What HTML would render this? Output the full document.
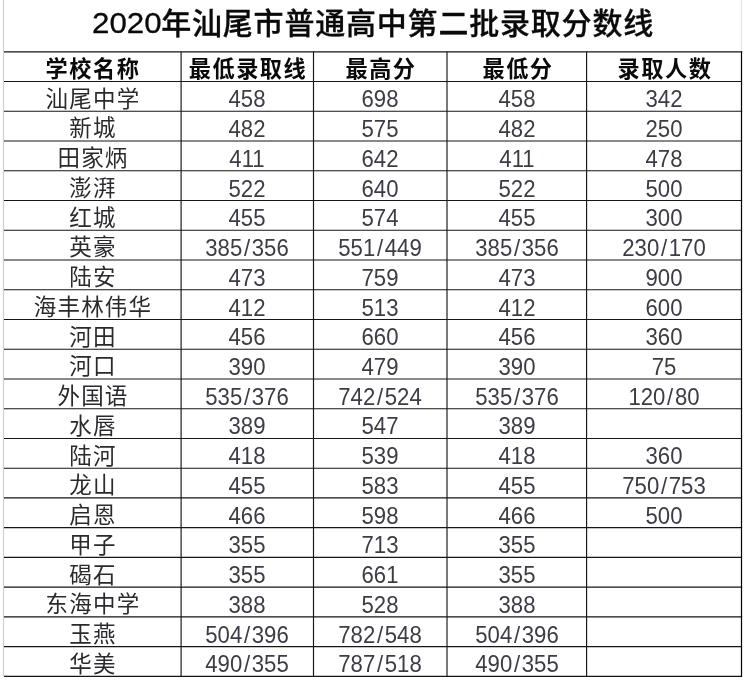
<!DOCTYPE html>
<html lang="zh-CN"><head><meta charset="utf-8"><title>2020年汕尾市普通高中第二批录取分数线</title>
<style>
html,body{margin:0;padding:0;background:#fff;}
#pg{position:relative;width:751px;height:681px;overflow:hidden;background:#fff;font-family:"Liberation Sans","Noto Sans CJK SC",sans-serif;}
#pg svg{position:absolute;left:0;top:0;}
.t{position:absolute;white-space:nowrap;text-align:center;line-height:1;transform:translate(-50%,-50%) rotate(0.02deg);}
.title{font-size:30px;font-weight:500;color:#0a0a0a;-webkit-text-stroke:0.3px #0a0a0a;letter-spacing:0.8px;}
.title b{font-weight:400;font-size:29.5px;letter-spacing:0;}
.h{font-size:22.2px;font-weight:700;color:#0a0a0a;letter-spacing:1.5px;}
.c{font-size:22.5px;font-weight:400;color:#2a2a2e;letter-spacing:1.2px;}
.n{font-size:23.2px;font-weight:400;color:#3c3c46;transform:translate(-50%,-50%) rotate(0.02deg) scaleX(0.955);}
.n i{font-style:normal;padding:0 1.8px;}
</style></head><body><div id="pg">
<svg width="751" height="681" viewBox="0 0 751 681"><line x1="3.5" y1="0" x2="3.5" y2="676.40" stroke="#cfcfcf" stroke-width="1.2"/><line x1="741.5" y1="0" x2="741.5" y2="51.80" stroke="#e2e2e2" stroke-width="1.2"/><line x1="4.0" y1="51.80" x2="742.1" y2="51.80" stroke="#151515" stroke-width="1.15"/><line x1="4.0" y1="81.54" x2="742.1" y2="81.54" stroke="#151515" stroke-width="1.15"/><line x1="4.0" y1="111.29" x2="742.1" y2="111.29" stroke="#151515" stroke-width="1.15"/><line x1="4.0" y1="141.03" x2="742.1" y2="141.03" stroke="#151515" stroke-width="1.15"/><line x1="4.0" y1="170.77" x2="742.1" y2="170.77" stroke="#151515" stroke-width="1.15"/><line x1="4.0" y1="200.51" x2="742.1" y2="200.51" stroke="#151515" stroke-width="1.15"/><line x1="4.0" y1="230.26" x2="742.1" y2="230.26" stroke="#151515" stroke-width="1.15"/><line x1="4.0" y1="260.00" x2="742.1" y2="260.00" stroke="#151515" stroke-width="1.15"/><line x1="4.0" y1="289.74" x2="742.1" y2="289.74" stroke="#151515" stroke-width="1.15"/><line x1="4.0" y1="319.49" x2="742.1" y2="319.49" stroke="#151515" stroke-width="1.15"/><line x1="4.0" y1="349.23" x2="742.1" y2="349.23" stroke="#151515" stroke-width="1.15"/><line x1="4.0" y1="378.97" x2="742.1" y2="378.97" stroke="#151515" stroke-width="1.15"/><line x1="4.0" y1="408.71" x2="742.1" y2="408.71" stroke="#151515" stroke-width="1.15"/><line x1="4.0" y1="438.46" x2="742.1" y2="438.46" stroke="#151515" stroke-width="1.15"/><line x1="4.0" y1="468.20" x2="742.1" y2="468.20" stroke="#151515" stroke-width="1.15"/><line x1="4.0" y1="497.94" x2="742.1" y2="497.94" stroke="#151515" stroke-width="1.15"/><line x1="4.0" y1="527.69" x2="742.1" y2="527.69" stroke="#151515" stroke-width="1.15"/><line x1="4.0" y1="557.43" x2="742.1" y2="557.43" stroke="#151515" stroke-width="1.15"/><line x1="4.0" y1="587.17" x2="742.1" y2="587.17" stroke="#151515" stroke-width="1.15"/><line x1="4.0" y1="616.91" x2="742.1" y2="616.91" stroke="#151515" stroke-width="1.15"/><line x1="4.0" y1="646.66" x2="742.1" y2="646.66" stroke="#151515" stroke-width="1.15"/><line x1="4.0" y1="676.40" x2="742.1" y2="676.40" stroke="#151515" stroke-width="1.15"/><line x1="181.1" y1="51.80" x2="181.1" y2="676.40" stroke="#151515" stroke-width="1.15"/><line x1="313.5" y1="51.80" x2="313.5" y2="676.40" stroke="#151515" stroke-width="1.15"/><line x1="447.0" y1="51.80" x2="447.0" y2="676.40" stroke="#151515" stroke-width="1.15"/><line x1="586.6" y1="51.80" x2="586.6" y2="676.40" stroke="#151515" stroke-width="1.15"/><line x1="741.5" y1="51.15" x2="741.5" y2="677.05" stroke="#000" stroke-width="1.2"/></svg>
<div class="title" style="position:absolute;left:0;top:0;width:751px;height:50px;line-height:1;white-space:nowrap"><b style="position:absolute;left:91.7px;top:8.3px;transform-origin:0 50%;transform:scaleX(1.06);-webkit-text-stroke:0.3px #0a0a0a">2020</b><span style="position:absolute;left:161.2px;top:8.6px;transform-origin:0 50%;transform:scale(1.0,1.0)">年汕尾市普通高中第二批录取分数线</span></div>
<div class="t h" style="left:93.05px;top:69.97px">学校名称</div>
<div class="t h" style="left:248.05px;top:69.97px">最低录取线</div>
<div class="t h" style="left:381.00px;top:69.97px">最高分</div>
<div class="t h" style="left:517.55px;top:69.97px">最低分</div>
<div class="t h" style="left:664.80px;top:69.97px">录取人数</div>
<div class="t c" style="left:92.90px;top:99.61px">汕尾中学</div>
<div class="t n" style="left:247.30px;top:100.31px">458</div>
<div class="t n" style="left:380.25px;top:100.31px">698</div>
<div class="t n" style="left:516.80px;top:100.31px">458</div>
<div class="t n" style="left:664.05px;top:100.31px">342</div>
<div class="t c" style="left:92.90px;top:129.36px">新城</div>
<div class="t n" style="left:247.30px;top:130.06px">482</div>
<div class="t n" style="left:380.25px;top:130.06px">575</div>
<div class="t n" style="left:516.80px;top:130.06px">482</div>
<div class="t n" style="left:664.05px;top:130.06px">250</div>
<div class="t c" style="left:92.90px;top:159.10px">田家炳</div>
<div class="t n" style="left:247.30px;top:159.80px">411</div>
<div class="t n" style="left:380.25px;top:159.80px">642</div>
<div class="t n" style="left:516.80px;top:159.80px">411</div>
<div class="t n" style="left:664.05px;top:159.80px">478</div>
<div class="t c" style="left:92.90px;top:188.84px">澎湃</div>
<div class="t n" style="left:247.30px;top:189.54px">522</div>
<div class="t n" style="left:380.25px;top:189.54px">640</div>
<div class="t n" style="left:516.80px;top:189.54px">522</div>
<div class="t n" style="left:664.05px;top:189.54px">500</div>
<div class="t c" style="left:92.90px;top:218.59px">红城</div>
<div class="t n" style="left:247.30px;top:219.29px">455</div>
<div class="t n" style="left:380.25px;top:219.29px">574</div>
<div class="t n" style="left:516.80px;top:219.29px">455</div>
<div class="t n" style="left:664.05px;top:219.29px">300</div>
<div class="t c" style="left:92.90px;top:248.33px">英豪</div>
<div class="t n" style="left:247.30px;top:249.03px">385<i>/</i>356</div>
<div class="t n" style="left:380.25px;top:249.03px">551<i>/</i>449</div>
<div class="t n" style="left:516.80px;top:249.03px">385<i>/</i>356</div>
<div class="t n" style="left:664.05px;top:249.03px">230<i>/</i>170</div>
<div class="t c" style="left:92.90px;top:278.07px">陆安</div>
<div class="t n" style="left:247.30px;top:278.77px">473</div>
<div class="t n" style="left:380.25px;top:278.77px">759</div>
<div class="t n" style="left:516.80px;top:278.77px">473</div>
<div class="t n" style="left:664.05px;top:278.77px">900</div>
<div class="t c" style="left:92.90px;top:307.81px">海丰林伟华</div>
<div class="t n" style="left:247.30px;top:308.51px">412</div>
<div class="t n" style="left:380.25px;top:308.51px">513</div>
<div class="t n" style="left:516.80px;top:308.51px">412</div>
<div class="t n" style="left:664.05px;top:308.51px">600</div>
<div class="t c" style="left:92.90px;top:337.56px">河田</div>
<div class="t n" style="left:247.30px;top:338.26px">456</div>
<div class="t n" style="left:380.25px;top:338.26px">660</div>
<div class="t n" style="left:516.80px;top:338.26px">456</div>
<div class="t n" style="left:664.05px;top:338.26px">360</div>
<div class="t c" style="left:92.90px;top:367.30px">河口</div>
<div class="t n" style="left:247.30px;top:368.00px">390</div>
<div class="t n" style="left:380.25px;top:368.00px">479</div>
<div class="t n" style="left:516.80px;top:368.00px">390</div>
<div class="t n" style="left:664.05px;top:368.00px">75</div>
<div class="t c" style="left:92.90px;top:397.04px">外国语</div>
<div class="t n" style="left:247.30px;top:397.74px">535<i>/</i>376</div>
<div class="t n" style="left:380.25px;top:397.74px">742<i>/</i>524</div>
<div class="t n" style="left:516.80px;top:397.74px">535<i>/</i>376</div>
<div class="t n" style="left:664.05px;top:397.74px">120<i>/</i>80</div>
<div class="t c" style="left:92.90px;top:426.79px">水唇</div>
<div class="t n" style="left:247.30px;top:427.49px">389</div>
<div class="t n" style="left:380.25px;top:427.49px">547</div>
<div class="t n" style="left:516.80px;top:427.49px">389</div>
<div class="t c" style="left:92.90px;top:456.53px">陆河</div>
<div class="t n" style="left:247.30px;top:457.23px">418</div>
<div class="t n" style="left:380.25px;top:457.23px">539</div>
<div class="t n" style="left:516.80px;top:457.23px">418</div>
<div class="t n" style="left:664.05px;top:457.23px">360</div>
<div class="t c" style="left:92.90px;top:486.27px">龙山</div>
<div class="t n" style="left:247.30px;top:486.97px">455</div>
<div class="t n" style="left:380.25px;top:486.97px">583</div>
<div class="t n" style="left:516.80px;top:486.97px">455</div>
<div class="t n" style="left:664.05px;top:486.97px">750<i>/</i>753</div>
<div class="t c" style="left:92.90px;top:516.01px">启恩</div>
<div class="t n" style="left:247.30px;top:516.71px">466</div>
<div class="t n" style="left:380.25px;top:516.71px">598</div>
<div class="t n" style="left:516.80px;top:516.71px">466</div>
<div class="t n" style="left:664.05px;top:516.71px">500</div>
<div class="t c" style="left:92.90px;top:545.76px">甲子</div>
<div class="t n" style="left:247.30px;top:546.46px">355</div>
<div class="t n" style="left:380.25px;top:546.46px">713</div>
<div class="t n" style="left:516.80px;top:546.46px">355</div>
<div class="t c" style="left:92.90px;top:575.50px">碣石</div>
<div class="t n" style="left:247.30px;top:576.20px">355</div>
<div class="t n" style="left:380.25px;top:576.20px">661</div>
<div class="t n" style="left:516.80px;top:576.20px">355</div>
<div class="t c" style="left:92.90px;top:605.24px">东海中学</div>
<div class="t n" style="left:247.30px;top:605.94px">388</div>
<div class="t n" style="left:380.25px;top:605.94px">528</div>
<div class="t n" style="left:516.80px;top:605.94px">388</div>
<div class="t c" style="left:92.90px;top:634.99px">玉燕</div>
<div class="t n" style="left:247.30px;top:635.69px">504<i>/</i>396</div>
<div class="t n" style="left:380.25px;top:635.69px">782<i>/</i>548</div>
<div class="t n" style="left:516.80px;top:635.69px">504<i>/</i>396</div>
<div class="t c" style="left:92.90px;top:664.73px">华美</div>
<div class="t n" style="left:247.30px;top:665.43px">490<i>/</i>355</div>
<div class="t n" style="left:380.25px;top:665.43px">787<i>/</i>518</div>
<div class="t n" style="left:516.80px;top:665.43px">490<i>/</i>355</div>
</div></body></html>
